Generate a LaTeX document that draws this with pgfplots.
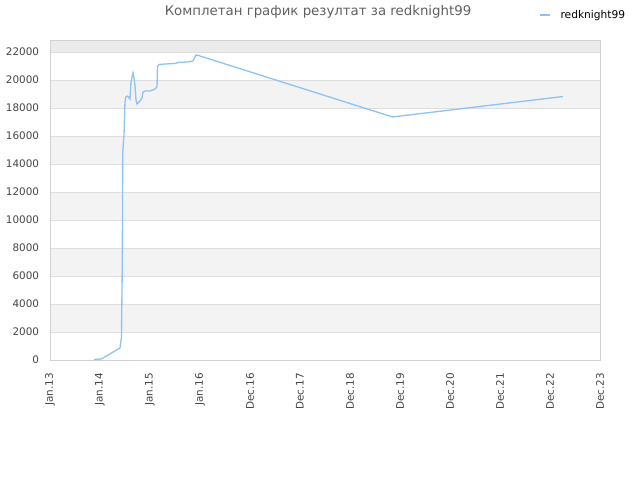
\documentclass[border=0pt]{standalone}
\usepackage{fontspec}
\setmainfont{DejaVu Sans}
\usepackage{pgfplots}
\pgfplotsset{compat=1.18}
\definecolor{series}{HTML}{90C3F5}
\definecolor{bandlight}{HTML}{F3F3F3}
\definecolor{banddark}{HTML}{EBEBEB}
\definecolor{gridgray}{HTML}{DEDEDE}
\definecolor{framegray}{HTML}{D2D2D2}
\definecolor{ticktext}{HTML}{444444}

\begin{document}
\begin{tikzpicture}
\path[use as bounding box] (0,0) rectangle (480pt,360pt);
\node[text=ticktext!85, font=\fontsize{10}{12}\selectfont, anchor=center] at (238.5pt,351pt)
  {Комплетан график резултат за redknight99};
\begin{axis}[
    at={(37.5pt,90pt)}, anchor=south west,
    scale only axis, width=412.5pt, height=240pt,
    xmin=0, xmax=11, ymin=0, ymax=22857,
    xtick={0,...,11},
    xticklabels={Jan.13,Jan.14,Jan.15,Jan.16,Dec.16,Dec.17,Dec.18,Dec.19,Dec.20,Dec.21,Dec.22,Dec.23},
    ytick={0,2000,4000,6000,8000,10000,12000,14000,16000,18000,20000,22000},
    yticklabels={0,2000,4000,6000,8000,10000,12000,14000,16000,18000,20000,22000},
    scaled y ticks=false,
    major tick length=0pt,
    ymajorgrids, major grid style={draw=gridgray, line width=0.6pt},
    axis line style={draw=framegray, line width=0.6pt},
    tick label style={text=ticktext, font=\fontsize{7.8}{9}\selectfont},
    x tick label style={rotate=90, anchor=east, inner sep=0pt},
    xticklabel shift=9.5pt,
    y tick label style={anchor=east, inner sep=0pt},
    yticklabel shift=8pt,
    legend style={at={(0.889,1.078)}, anchor=west, draw=none, fill=none,
      font=\fontsize{8}{9}\selectfont, inner sep=0pt,
      legend cell align=left},
    legend image code/.code={\draw[#1] (0pt,0pt) -- (7.5pt,0pt); \path (13pt,0pt);},
]
% background bands
\fill[bandlight] (axis cs:0,2000) rectangle (axis cs:11,4000);
\fill[bandlight] (axis cs:0,6000) rectangle (axis cs:11,8000);
\fill[bandlight] (axis cs:0,10000) rectangle (axis cs:11,12000);
\fill[bandlight] (axis cs:0,14000) rectangle (axis cs:11,16000);
\fill[bandlight] (axis cs:0,18000) rectangle (axis cs:11,20000);
\fill[banddark] (axis cs:0,22000) rectangle (axis cs:11,22857);
% grid lines and frame again over the bands
\pgfplotsinvokeforeach{2000,4000,6000,8000,10000,12000,14000,16000,18000,20000,22000}{
  \draw[gridgray, line width=0.6pt] (axis cs:0,#1) -- (axis cs:11,#1);
}
\draw[framegray, line width=0.6pt] (rel axis cs:0,0) rectangle (rel axis cs:1,1);

\addplot[series, line width=1pt] coordinates {
  (0.88,35) (1.02,70) (1.06,140) (1.40,860) (1.43,1640) (1.446,7000)
  (1.454,14800) (1.48,16070) (1.50,18450) (1.52,18800) (1.554,18850)
  (1.60,18640) (1.62,19860) (1.66,20500) (1.68,20140) (1.70,19570)
  (1.72,18570) (1.74,18290) (1.80,18500) (1.84,18710) (1.86,19140)
  (1.90,19210) (2.00,19210) (2.10,19360) (2.14,19500) (2.15,21000)
  (2.18,21110) (2.30,21140) (2.50,21180) (2.56,21250) (2.76,21290)
  (2.86,21360) (2.92,21790) (2.96,21760) (6.85,17360) (10.26,18820)
};
\addlegendentry{redknight99}
\end{axis}
\end{tikzpicture}
\end{document}
